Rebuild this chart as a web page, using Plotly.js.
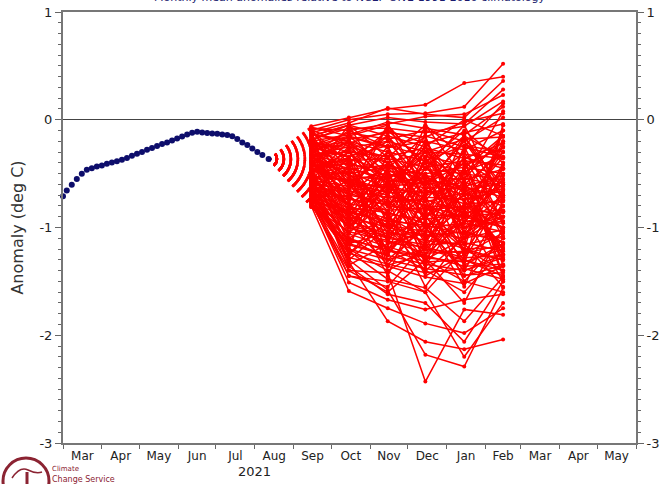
<!DOCTYPE html>
<html>
<head>
<meta charset="utf-8">
<script src="https://cdn.plot.ly/plotly-3.0.1.min.js"></script>
<style>
html,body{margin:0;padding:0;background:#fff;}
#chart{width:664px;height:484px;}
</style>
</head>
<body>
<div id="chart"></div>
<script>
// Observed anomalies (dots)
var obsDates = ['2021-03-01','2021-03-04','2021-03-08','2021-03-12','2021-03-16','2021-03-20','2021-03-24','2021-03-28',
  '2021-04-01','2021-04-05','2021-04-09','2021-04-13','2021-04-17','2021-04-21','2021-04-25','2021-04-29',
  '2021-05-03','2021-05-07','2021-05-11','2021-05-15','2021-05-19','2021-05-23','2021-05-27','2021-05-31',
  '2021-06-04','2021-06-08','2021-06-12','2021-06-16','2021-06-20','2021-06-24','2021-06-28',
  '2021-07-02','2021-07-06','2021-07-10','2021-07-14','2021-07-18','2021-07-22','2021-07-26','2021-07-30',
  '2021-08-03','2021-08-07','2021-08-12'];
var obsVals = [-0.711,-0.656,-0.603,-0.551,-0.501,-0.464,-0.449,-0.433,-0.424,-0.408,
  -0.396,-0.384,-0.371,-0.356,-0.334,-0.316,-0.300,-0.278,-0.263,-0.244,
  -0.226,-0.210,-0.192,-0.173,-0.155,-0.136,-0.121,-0.111,-0.118,-0.124,
  -0.127,-0.130,-0.136,-0.142,-0.152,-0.179,-0.210,-0.235,-0.266,-0.300,
  -0.328,-0.365];

// Forecast months (monthly means, plotted mid-month)
var fcDates = ['2021-09-15','2021-10-15','2021-11-15','2021-12-15','2022-01-15','2022-02-15'];

// Ensemble member values per month (member i = index i in each array)
var sepVals = [-0.06,-0.10,-0.12,-0.15,-0.08,-0.18,-0.20,-0.14,-0.24,-0.28,
  -0.30,-0.22,-0.33,-0.36,-0.26,-0.38,-0.40,-0.32,-0.44,-0.42,
  -0.46,-0.48,-0.35,-0.50,-0.52,-0.45,-0.54,-0.56,-0.40,-0.58,
  -0.60,-0.50,-0.62,-0.64,-0.55,-0.66,-0.68,-0.48,-0.70,-0.72,
  -0.58,-0.74,-0.62,-0.76,-0.78,-0.66,-0.80,-0.70,-0.81,-0.74,
  -0.77,-0.68,-0.79,-0.72,-0.75,-0.80,-0.64,-0.78,-0.60,-0.70,
  -0.76,-0.66,-0.10,-0.20,-0.30,-0.40,-0.16,-0.50,-0.26,-0.60,
  -0.12,-0.34,-0.46,-0.08,-0.56,-0.22,-0.38,-0.64,-0.28,-0.52,
  -0.09,-0.11,-0.13,-0.17,-0.19,-0.21,-0.23,-0.25,-0.27,-0.29,
  -0.31,-0.33,-0.35,-0.37,-0.39,-0.41,-0.43,-0.45,-0.47,-0.49,
  -0.51,-0.53,-0.55,-0.57,-0.59,-0.61,-0.63,-0.65,-0.67,-0.69,
  -0.71,-0.73,-0.75,-0.77,-0.79,-0.81,-0.07,-0.15,-0.24,-0.32,
  -0.42,-0.36,-0.58,-0.66,-0.72,-0.62,-0.54,-0.48,-0.44,-0.18,
  -0.26,-0.38,-0.52,-0.74,-0.60,-0.30,-0.20,-0.14,-0.46,-0.56];
var octVals = [0.02,0.00,-0.03,-0.05,-0.10,-0.08,-0.14,-0.18,-0.12,-0.22,
  -0.16,-0.26,-0.30,-0.20,-0.34,-0.28,-0.38,-0.42,-0.36,-0.46,
  -0.40,-0.50,-0.52,-0.44,-0.56,-0.60,-0.48,-0.62,-0.58,-0.66,
  -0.64,-0.70,-0.68,-0.74,-0.78,-0.72,-0.82,-0.80,-0.86,-0.84,
  -0.90,-0.88,-0.94,-0.92,-0.98,-1.00,-1.04,-1.06,-1.10,-1.12,
  -1.16,-1.20,-1.24,-1.28,-1.51,-1.59,-1.32,-1.40,-1.30,-1.45,
  -1.36,-1.22,-0.40,-0.70,-0.90,-0.20,-0.60,-1.00,-0.80,-0.30,
  -1.10,-0.50,-1.20,-0.60,-0.20,-1.00,-0.70,-1.30,-0.40,-0.90,
  -0.25,-0.45,-0.65,-0.85,-0.05,-0.35,-0.95,-0.15,-0.55,-1.05,
  -0.75,-0.25,-1.15,-0.45,-0.85,-0.15,-1.25,-0.65,-0.35,-0.95,
  -0.05,-1.35,-0.55,-0.75,-0.25,-1.15,-0.45,-0.95,-0.65,-1.25,
  -0.35,-1.05,-0.85,-1.45,-0.55,-1.15,-0.15,-0.05,-0.35,-0.10,
  -0.60,-0.80,-1.00,-0.50,-0.70,-0.90,-1.10,-0.30,-0.60,-0.50,
  -0.20,-0.80,-1.40,-1.20,-1.00,-0.60,-0.30,-0.20,-0.40,-0.80];
var novVals = [0.10,0.05,0.11,0.02,-0.04,-0.08,-0.02,-0.12,-0.18,-0.10,
  -0.26,-0.20,-0.34,-0.30,-0.24,-0.40,-0.36,-0.46,-0.48,-0.42,
  -0.52,-0.44,-0.56,-0.58,-0.50,-0.62,-0.64,-0.60,-0.68,-0.72,
  -0.66,-0.76,-0.80,-0.78,-0.84,-0.88,-0.86,-0.92,-0.94,-0.98,
  -1.00,-1.04,-1.06,-1.10,-1.08,-1.14,-1.12,-1.18,-1.22,-1.20,
  -1.26,-1.30,-1.34,-1.36,-1.67,-1.75,-1.87,-1.42,-1.58,-1.50,
  -1.62,-1.48,-0.20,-0.40,-0.60,-0.80,-1.00,-0.50,-1.20,-0.70,
  -0.90,-1.30,-0.30,-0.90,-0.60,-0.70,-1.10,-1.00,-1.40,-0.40,
  -0.55,-0.15,-0.85,-0.35,-0.65,-0.95,-0.45,-0.25,-1.05,-0.75,
  -0.05,-1.15,-0.55,-0.85,-1.25,-0.45,-0.95,-0.25,-1.35,-0.65,
  -0.15,-1.15,-0.75,-1.45,-0.35,-1.05,-0.55,-1.35,-0.05,-0.85,
  -1.25,-0.45,-0.95,-1.55,-0.65,-1.25,-0.05,-0.35,-0.15,-0.25,
  -0.70,-0.50,-1.10,-0.90,-1.00,-1.20,-1.30,-0.60,-0.30,-0.80,
  -0.50,-1.20,-1.60,-1.40,-0.60,-0.30,-0.70,-0.40,-0.10,-1.00];
var decVals = [0.14,0.06,0.05,-0.02,0.03,-0.12,-0.08,-0.16,-0.10,-0.22,
  -0.20,-0.30,-0.26,-0.38,-0.34,-0.30,-0.44,-0.40,-0.50,-0.52,
  -0.46,-0.56,-0.60,-0.54,-0.64,-0.58,-0.68,-0.72,-0.66,-0.76,
  -0.80,-0.74,-0.84,-0.88,-0.82,-0.92,-0.96,-1.00,-0.98,-1.04,
  -1.08,-1.12,-1.06,-1.16,-1.20,-1.18,-1.24,-1.28,-1.26,-1.32,
  -1.34,-1.38,-1.42,-1.46,-1.76,-1.89,-2.06,-2.43,-2.18,-1.60,
  -1.70,-1.56,-0.60,-0.90,-0.30,-0.50,-0.70,-1.10,-0.90,-1.20,
  -0.40,-1.00,-0.80,-1.30,-1.00,-0.20,-0.60,-1.40,-1.20,-0.70,
  -0.35,-0.75,-0.45,-0.95,-0.25,-1.15,-0.15,-0.85,-0.55,-1.05,
  -0.65,-0.35,-1.25,-0.05,-0.75,-1.35,-0.45,-0.95,-1.25,-0.25,
  -0.55,-1.05,-1.45,-0.65,-0.85,-0.35,-1.15,-0.95,-0.45,-1.55,
  -0.25,-0.75,-1.35,-1.15,-0.15,-0.85,-0.45,-0.05,-0.25,-0.15,
  -0.80,-0.60,-0.90,-1.10,-1.30,-1.00,-1.20,-0.90,-0.70,-0.40,
  -1.00,-1.40,-1.30,-1.60,-1.30,-0.60,-0.30,-0.60,-0.40,-0.50];
var janVals = [0.34,0.12,0.02,-0.04,0.05,-0.06,-0.14,-0.02,-0.20,-0.12,
  -0.28,-0.18,-0.36,-0.24,-0.42,-0.32,-0.38,-0.48,-0.44,-0.56,
  -0.50,-0.62,-0.54,-0.66,-0.58,-0.70,-0.62,-0.74,-0.78,-0.68,
  -0.82,-0.86,-0.80,-0.90,-0.94,-0.88,-1.00,-0.96,-1.06,-1.10,
  -1.04,-1.16,-1.20,-1.14,-1.24,-1.28,-1.22,-1.32,-1.36,-1.30,
  -1.40,-1.44,-1.38,-1.52,-1.67,-1.98,-2.13,-1.76,-2.29,-2.20,
  -2.06,-1.87,-0.30,-0.50,-0.90,-1.10,-0.40,-0.80,-1.30,-0.60,
  -1.00,-0.70,-1.20,-0.80,-1.40,-0.70,-0.20,-1.10,-0.90,-1.50,
  -0.85,-0.35,-0.65,-0.15,-0.95,-0.55,-1.05,-0.45,-1.25,-0.25,
  -0.75,-1.15,-0.65,-0.35,-1.35,-0.85,-0.05,-1.45,-0.95,-0.55,
  -1.05,-0.45,-1.25,-0.15,-1.15,-0.75,-0.25,-1.55,-0.65,-1.05,
  -0.85,-1.35,-0.45,-0.95,-1.25,-0.35,-0.15,-0.55,0.00,-0.25,
  -0.90,-1.00,-1.20,-0.80,-1.10,-1.40,-1.30,-0.70,-0.60,-1.10,
  -0.80,-1.60,-1.50,-1.20,-1.70,-0.20,-0.60,-0.40,-0.10,-0.90];
var febVals = [0.40,0.52,0.36,0.28,0.23,0.17,0.12,0.06,0.02,-0.04,
  -0.10,-0.16,-0.22,-0.30,-0.26,-0.36,-0.42,-0.34,-0.50,-0.46,
  -0.56,-0.52,-0.62,-0.58,-0.68,-0.64,-0.72,-0.66,-0.76,-0.80,
  -0.74,-0.84,-0.90,-0.86,-0.96,-1.00,-0.94,-1.04,-1.10,-1.02,
  -1.14,-1.08,-1.18,-1.22,-1.16,-1.26,-1.30,-1.20,-1.34,-1.40,
  -1.28,-1.42,-1.48,-1.36,-1.62,-1.75,-2.04,-1.81,-1.56,-1.70,
  -1.50,-1.46,-0.80,-0.20,-0.60,-0.40,-1.10,-0.30,-0.70,-1.30,
  -0.90,-1.20,-0.10,-1.00,-0.80,-1.30,-0.60,-0.50,-1.50,-1.10,
  -0.45,-0.95,-0.25,-0.75,-0.55,-0.15,-0.85,-1.05,-0.65,-0.35,
  -1.25,-0.05,-0.95,-0.45,-1.15,-0.25,-0.75,-1.35,-0.55,-1.45,
  -0.85,-0.15,-1.05,-0.65,-1.55,-0.35,-0.95,-0.75,-1.25,-0.45,
  -1.15,-0.05,-1.35,-0.85,-0.65,-1.45,-0.35,0.08,-0.15,0.15,
  -1.00,-0.70,-1.30,-1.20,-0.90,-1.25,-1.45,-0.50,-0.90,-0.80,
  -0.60,-1.20,-1.60,-1.40,-1.00,-0.70,-0.30,-0.60,-0.40,-0.20];

var yTickVals = [1,0,-1,-2,-3];
var yTickText = ['1','0','-1','-2','-3'];
var titleText = 'Monthly mean anomalies relative to NCEP OIv2 1991-2010 climatology';
var yTitle = 'Anomaly (deg C)';
var yearLabel = '2021';

var RED = '#ff0000';
var NAVY = '#0d0d6b';
var MAROON = '#8b2332';
var traces = [];

var startDate = obsDates[obsDates.length-1];
var startVal = obsVals[obsVals.length-1];
var months = [sepVals, octVals, novVals, decVals, janVals, febVals];

// dashed segments from last observation to first forecast month
for (var i = 0; i < sepVals.length; i++) {
  traces.push({
    type:'scatter', mode:'lines', x:[startDate, fcDates[0]], y:[startVal, sepVals[i]],
    line:{color:RED, width:1.2, dash:'2.5px,4.5px'}, hoverinfo:'skip', showlegend:false, cliponaxis:false
  });
}
// member lines
var mx = [], my = [];
for (var i = 0; i < sepVals.length; i++) {
  for (var m = 0; m < months.length; m++) { mx.push(fcDates[m]); my.push(months[m][i]); }
  mx.push(null); my.push(null);
}
traces.push({
  type:'scatter', mode:'lines+markers', x:mx, y:my, connectgaps:false,
  line:{color:RED, width:1.5}, marker:{color:RED, size:4},
  hoverinfo:'skip', showlegend:false, cliponaxis:false
});
// observations
traces.push({
  type:'scatter', mode:'markers', x:obsDates, y:obsVals,
  marker:{color:NAVY, size:6}, showlegend:false, cliponaxis:false
});
// right axis carrier
traces.push({type:'scatter', x:[], y:[], yaxis:'y2', showlegend:false, hoverinfo:'skip'});

function px2paperX(p){ return (p-63)/573; }
function px2paperY(p){ return (443-p)/431; }

var axisFont = {family:'DejaVu Sans, sans-serif', size:13, color:'#222'};
var layout = {
  width:664, height:484,
  margin:{l:63, r:28, t:12, b:41},
  paper_bgcolor:'#fff', plot_bgcolor:'#fff',
  showlegend:false,
  font:{family:'DejaVu Sans, sans-serif', color:'#222'},
  xaxis:{
    type:'date', range:['2021-03-01','2022-06-01'],
    tick0:'2021-03-01', dtick:'M1', tickformat:'%b', ticklabelmode:'period',
    ticks:'outside', ticklen:4, tickcolor:'#666', tickwidth:1, ticklabelstandoff:-3,
    showline:true, linecolor:'#777', linewidth:2, mirror:true,
    showgrid:false, zeroline:false,
    tickfont:{family:'DejaVu Sans, sans-serif', size:12, color:'#222'}
  },
  yaxis:{
    range:[-3,1], tickvals:yTickVals, ticktext:yTickText,
    ticks:'outside', ticklen:6, tickcolor:'#666', tickwidth:1,
    minor:{dtick:0.1, ticks:'outside', ticklen:3, tickcolor:'#666'},
    showline:true, linecolor:'#777', linewidth:2,
    showgrid:false, zeroline:true, zerolinecolor:'#444', zerolinewidth:1.2,
    tickfont:axisFont,
    title:{text:yTitle, font:{family:'DejaVu Sans, sans-serif', size:16, color:'#333'}, standoff:12}
  },
  yaxis2:{
    overlaying:'y', side:'right', range:[-3,1], tickvals:yTickVals, ticktext:yTickText,
    ticks:'outside', ticklen:6, tickcolor:'#666', tickwidth:1,
    minor:{dtick:0.1, ticks:'outside', ticklen:3, tickcolor:'#666'},
    showline:true, linecolor:'#777', linewidth:2,
    showgrid:false, zeroline:false, tickfont:axisFont
  },
  annotations:[
    {text:titleText, xref:'paper', yref:'paper', x:px2paperX(350), y:1, xanchor:'center', yanchor:'bottom',
     yshift:6, showarrow:false, font:{family:'DejaVu Sans, sans-serif', size:11, color:'#1a1a6e'}},
    {text:yearLabel, xref:'x', yref:'paper', x:'2021-08-01', y:px2paperY(472), xanchor:'center', yanchor:'middle',
     showarrow:false, font:{family:'DejaVu Sans, sans-serif', size:13, color:'#222'}},
    {text:'Climate', xref:'paper', yref:'paper', x:px2paperX(50), y:px2paperY(469), xanchor:'left', yanchor:'middle',
     showarrow:false, font:{family:'DejaVu Sans, sans-serif', size:7, color:MAROON}},
    {text:'Change Service', xref:'paper', yref:'paper', x:px2paperX(50), y:px2paperY(479), xanchor:'left', yanchor:'middle',
     showarrow:false, font:{family:'DejaVu Sans, sans-serif', size:8, color:MAROON}}
  ],
  shapes:[
    {type:'circle', xref:'paper', yref:'paper', x0:px2paperX(3), x1:px2paperX(49), y0:px2paperY(504), y1:px2paperY(458),
     line:{color:MAROON, width:3}, layer:'above'},
    {type:'line', xref:'paper', yref:'paper', x0:px2paperX(27), x1:px2paperX(27), y0:px2paperY(484), y1:px2paperY(472),
     line:{color:MAROON, width:3}},
    {type:'path', xref:'paper', yref:'paper',
     path:'M '+px2paperX(12)+' '+px2paperY(478)+' Q '+px2paperX(20)+' '+px2paperY(466)+' '+px2paperX(28)+' '+px2paperY(470)+' T '+px2paperX(42)+' '+px2paperY(472),
     line:{color:MAROON, width:1.5}}
  ]
};

Plotly.newPlot('chart', traces, layout, {displayModeBar:false, staticPlot:true});
</script>
</body>
</html>
